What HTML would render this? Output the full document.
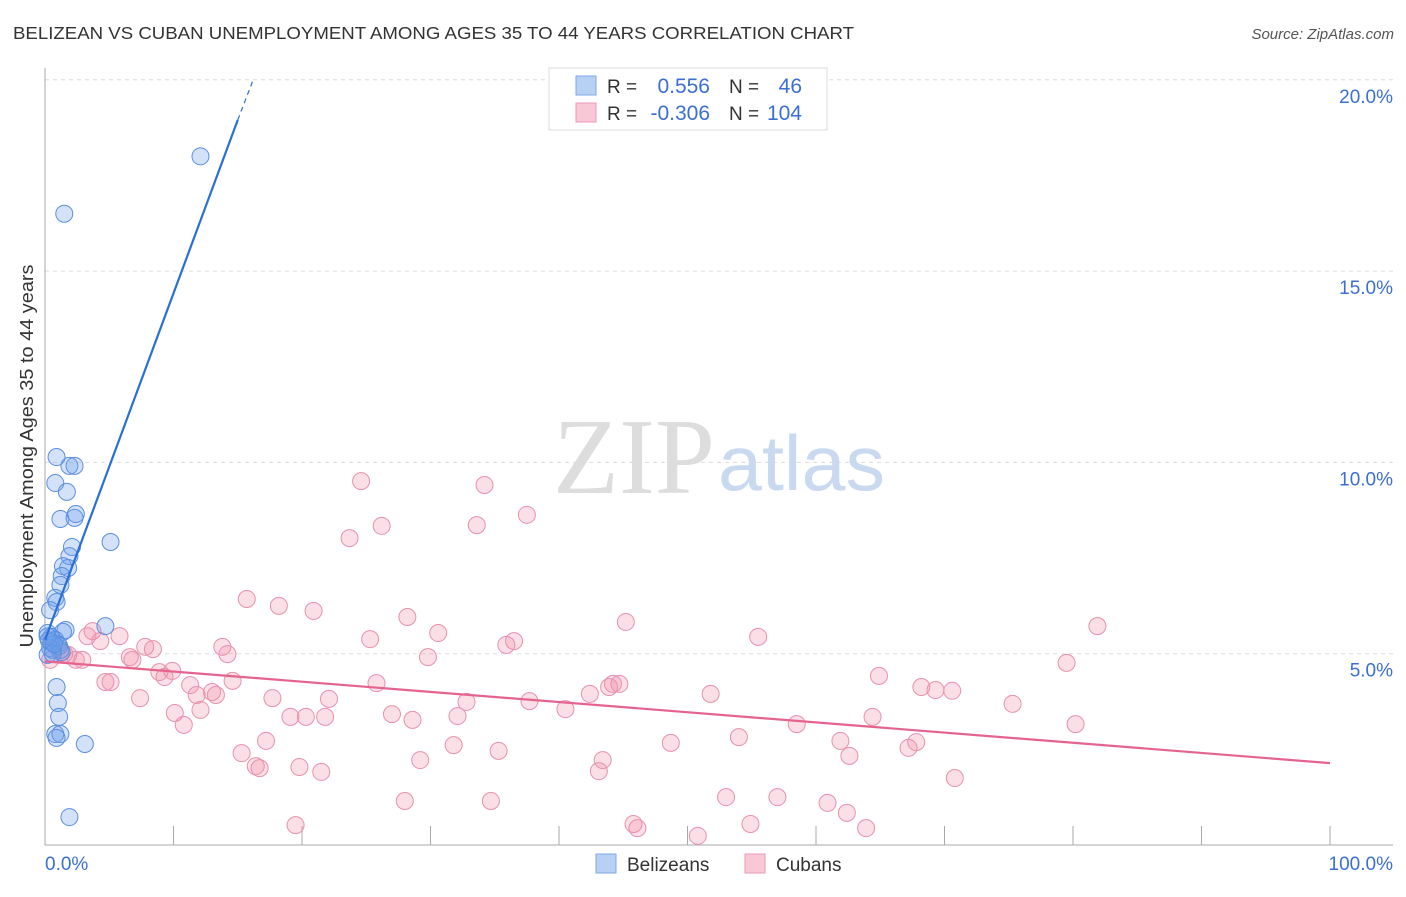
<!DOCTYPE html>
<html><head><meta charset="utf-8"><style>
body{margin:0;background:#fff;font-family:"Liberation Sans",sans-serif;}
svg text{font-family:"Liberation Sans",sans-serif;}
</style></head><body>
<svg width="1406" height="892" xmlns="http://www.w3.org/2000/svg">
<text x="13" y="39" font-size="17.5" fill="#333" textLength="841" lengthAdjust="spacingAndGlyphs">BELIZEAN VS CUBAN UNEMPLOYMENT AMONG AGES 35 TO 44 YEARS CORRELATION CHART</text>
<text x="1394" y="39" font-size="15" fill="#555" font-style="italic" text-anchor="end">Source: ZipAtlas.com</text>
<g id="grid"></g>
<g id="axes"></g>
<text x="553" y="493" font-size="108" fill="#ddd" textLength="162" lengthAdjust="spacingAndGlyphs" style="font-family:'Liberation Serif',serif">ZIP</text>
<text x="718" y="490" font-size="78" fill="#c9d9f0" textLength="167" lengthAdjust="spacingAndGlyphs">atlas</text>
<g id="marks"></g>
<text x="33" y="456" font-size="18" fill="#333" text-anchor="middle" textLength="383" lengthAdjust="spacingAndGlyphs" transform="rotate(-90 33 456)">Unemployment Among Ages 35 to 44 years</text>
<g>
<rect x="549" y="68" width="278" height="62" fill="#fff" stroke="#ddd"/>
<rect x="576" y="76" width="20" height="19" fill="#b8d0f4" stroke="#7fa8e8"/>
<rect x="576" y="103" width="20" height="19" fill="#f8c8d6" stroke="#ec9ab4"/>
<text x="607" y="93" font-size="19" fill="#333">R =</text>
<text x="710" y="93" font-size="21" fill="#3b6fd4" text-anchor="end">0.556</text>
<text x="729" y="93" font-size="19" fill="#333">N =</text>
<text x="802" y="93" font-size="21" fill="#3b6fd4" text-anchor="end">46</text>
<text x="607" y="120" font-size="19" fill="#333">R =</text>
<text x="710" y="120" font-size="21" fill="#3b6fd4" text-anchor="end">-0.306</text>
<text x="729" y="120" font-size="19" fill="#333">N =</text>
<text x="802" y="120" font-size="21" fill="#3b6fd4" text-anchor="end">104</text>
</g>
<g>
<rect x="596" y="854" width="20" height="19" fill="#b8d0f4" stroke="#7fa8e8"/>
<text x="627" y="871" font-size="19" fill="#333">Belizeans</text>
<rect x="745" y="854" width="20" height="19" fill="#f8c8d6" stroke="#ec9ab4"/>
<text x="776" y="871" font-size="19" fill="#333">Cubans</text>
</g>
</svg>
<script>
const yTicks=[5,10,15,20];
const yTickLabels=["5.0%","10.0%","15.0%","20.0%"];
const xTicks=[0,10,20,30,40,50,60,70,80,90,100];
const blueX=[12.1,1.5,0.9,1.9,2.3,0.8,1.7,1.2,2.3,2.4,5.1,2.1,1.9,1.8,1.4,1.3,1.2,0.8,0.9,0.4,4.7,1.6,1.4,0.2,0.5,0.8,1.0,0.4,1.2,1.3,0.2,0.6,0.5,1.1,0.3,0.6,0.9,1.0,1.1,0.8,1.2,0.9,3.1,1.9,0.2,0.7];
const blueY=[18.0,16.5,10.14,9.91,9.91,9.46,9.23,8.52,8.55,8.65,7.92,7.79,7.55,7.24,7.29,7.03,6.80,6.46,6.35,6.14,5.72,5.62,5.57,5.54,5.44,5.36,5.25,5.15,5.10,5.04,4.97,5.10,5.30,5.20,5.35,5.00,4.13,3.71,3.35,2.90,2.90,2.80,2.64,0.73,5.45,5.25];
const pinkX=[24.6,34.2,37.5,26.2,33.6,23.7,15.7,18.2,20.9,28.2,45.2,81.9,30.6,55.5,36.5,25.3,35.9,3.7,3.3,5.8,4.3,7.8,8.4,13.8,14.2,1.8,1.2,2.4,2.9,6.6,6.8,29.8,79.5,8.9,9.3,9.9,64.9,5.1,4.7,11.3,14.6,25.8,44.2,43.9,44.7,68.2,69.3,70.6,7.4,11.8,13.0,13.3,17.7,22.1,32.8,37.7,42.4,51.8,75.3,12.1,10.1,19.1,20.3,21.8,27.0,28.6,32.1,40.5,80.2,58.5,64.4,10.8,17.2,31.8,35.3,43.4,48.7,54.0,61.9,62.6,67.2,67.8,15.3,16.4,16.7,19.8,21.5,29.2,43.1,70.8,28.0,34.7,53.0,57.0,60.9,62.4,19.5,45.8,46.1,54.9,63.9,50.8,0.4,1.5];
const pinkY=[9.51,9.41,8.63,8.34,8.36,8.02,6.43,6.25,6.12,5.96,5.83,5.72,5.54,5.44,5.33,5.38,5.23,5.59,5.46,5.46,5.33,5.18,5.12,5.18,4.99,4.97,5.04,4.84,4.84,4.91,4.84,4.91,4.76,4.52,4.39,4.55,4.42,4.26,4.26,4.18,4.29,4.23,4.21,4.13,4.21,4.13,4.05,4.03,3.84,3.92,4.00,3.92,3.84,3.82,3.74,3.76,3.95,3.95,3.69,3.53,3.45,3.35,3.35,3.35,3.42,3.27,3.37,3.55,3.16,3.16,3.35,3.14,2.72,2.61,2.46,2.22,2.67,2.82,2.72,2.33,2.54,2.69,2.40,2.06,2.01,2.04,1.91,2.22,1.93,1.75,1.15,1.15,1.25,1.25,1.10,0.84,0.52,0.55,0.44,0.55,0.44,0.24,4.84,5.0];
const blueLine=[[0,5.36],[15,18.95]];
const blueDash=[[15,18.95],[16.2,20.0]];
const pinkLine=[[0,4.8],[100,2.14]];
const NS="http://www.w3.org/2000/svg";
const X=v=>45+v*12.85, Y=v=>845-v*38.26;
function mk(t,a,p){const e=document.createElementNS(NS,t);for(const k in a)e.setAttribute(k,a[k]);(p||document.getElementById('marks')).appendChild(e);return e;}
const grid=document.getElementById('grid'),axes=document.getElementById('axes');
yTicks.forEach((t,i)=>{
 const l=mk('line',{x1:45,x2:1393,y1:Y(t),y2:Y(t),stroke:'#ddd','stroke-dasharray':'4,4'},grid);
 
 
 const tx=mk('text',{x:1393,y:Y(t)+23,'font-size':19,fill:'#3b6fd4','text-anchor':'end'},axes);
 tx.textContent=yTickLabels[i];
 
 
});
const ya=mk('line',{x1:45,x2:45,y1:68,y2:845,stroke:'#aaa'},axes);


const xa=mk('line',{x1:45,x2:1393,y1:845,y2:845,stroke:'#aaa'},axes);


xTicks.forEach(t=>{const l=mk('line',{x1:X(t),x2:X(t),y1:826,y2:845,stroke:'#aaa'},axes);
 
 });
const x0=mk('text',{x:45,y:870,'font-size':19,fill:'#3b6fd4'},axes);x0.textContent='0.0%';


const x1=mk('text',{x:1393,y:870,'font-size':19,fill:'#3b6fd4','text-anchor':'end'},axes);x1.textContent='100.0%';


pinkX.forEach((v,i)=>{const c=mk('circle',{cx:X(v),cy:Y(pinkY[i]),r:8.5,fill:'rgba(240,140,170,0.28)',stroke:'#e890ae','stroke-width':1});
 
 });
blueX.forEach((v,i)=>{const c=mk('circle',{cx:X(v),cy:Y(blueY[i]),r:8.5,fill:'rgba(110,160,235,0.3)',stroke:'#5b8fe0','stroke-width':1});
 
 });
const bl=mk('line',{x1:X(blueLine[0][0]),y1:Y(blueLine[0][1]),x2:X(blueLine[1][0]),y2:Y(blueLine[1][1]),stroke:'#2a6fd6','stroke-width':2.2});


const bd=mk('line',{x1:X(blueDash[0][0]),y1:Y(blueDash[0][1]),x2:X(blueDash[1][0]),y2:Y(blueDash[1][1]),stroke:'#2a6fd6','stroke-width':1.2,'stroke-dasharray':'5,4'});


const pl=mk('line',{x1:X(pinkLine[0][0]),y1:Y(pinkLine[0][1]),x2:X(pinkLine[1][0]),y2:Y(pinkLine[1][1]),stroke:'#e4648e','stroke-width':2.2});


</script>
</body></html>
